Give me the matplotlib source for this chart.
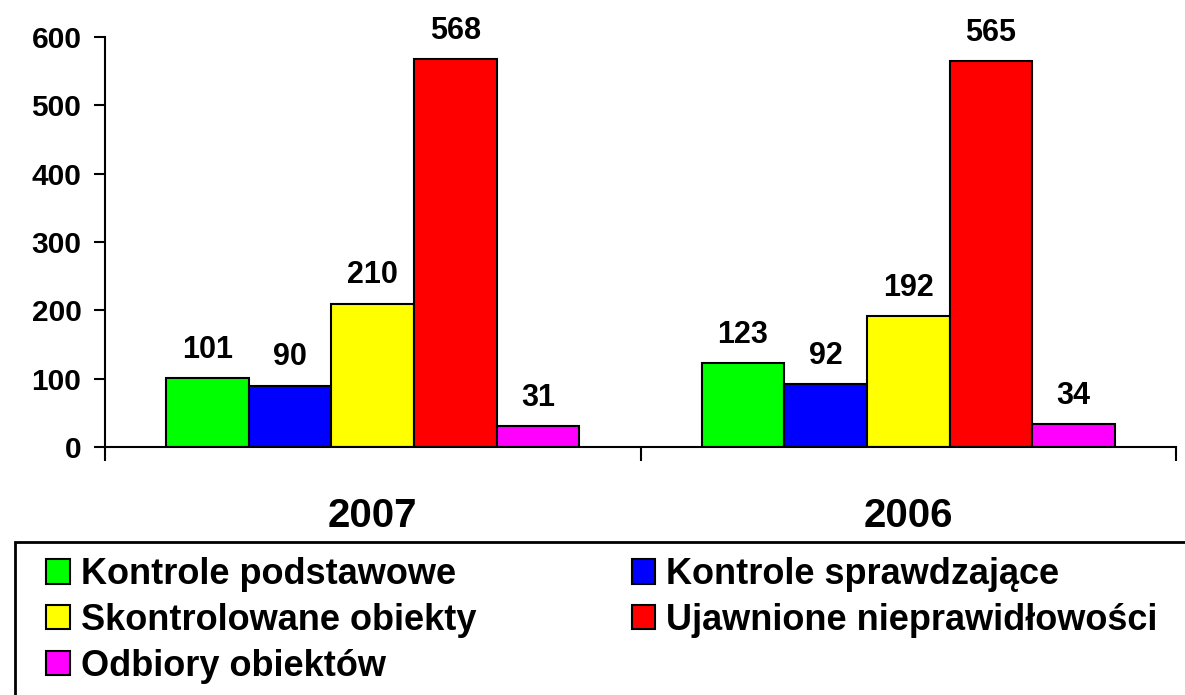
import numpy as np
import matplotlib
matplotlib.use('Agg')
import matplotlib.pyplot as plt
from matplotlib.patches import Rectangle

plt.rcParams['font.family'] = ['Liberation Sans', 'DejaVu Sans']
plt.rcParams['font.weight'] = 'bold'

years = ['2007', '2006']
series = ['Kontrole podstawowe', 'Kontrole sprawdzające', 'Skontrolowane obiekty',
          'Ujawnione nieprawidłowości', 'Odbiory obiektów']
values = [[101, 123],
          [90, 92],
          [210, 192],
          [568, 565],
          [31, 34]]
colors = ['#00FF00', '#0000FF', '#FFFF00', '#FF0000', '#FF00FF']

fig = plt.figure(figsize=(11.85, 6.95), dpi=100)
ax = fig.add_axes([105/1185, 1 - 447/695, (1176 - 105)/1185, (447 - 37)/695])

x = np.arange(len(years))
w = 0.772 / len(series)
handles = []
for i, (name, vals, c) in enumerate(zip(series, values, colors)):
    pos = x - 0.386 + w * (i + 0.5)
    b = ax.bar(pos, vals, w, color=c, edgecolor='black', linewidth=1.5, label=name)
    handles.append(b)
    for p, v in zip(pos, vals):
        ax.annotate(str(v), (p, v), xytext=(0, 9.5), textcoords='offset points',
                    ha='center', va='bottom', fontsize=22, fontweight='bold')

ax.set_xlim(-0.5, 1.5)
ax.set_ylim(0, 600)
ax.set_yticks(range(0, 601, 100))
ax.tick_params(axis='y', labelsize=21.5, length=8, width=1.5, direction='out', pad=9)
ax.set_xticks(x)
ax.set_xticklabels(years, fontsize=29, fontweight='bold')
ax.tick_params(axis='x', length=0, pad=36)
ax.set_xticks([-0.5, 0.5, 1.5], minor=True)
ax.tick_params(axis='x', which='minor', length=10, width=1.5, direction='out')
for s in ['top', 'right']:
    ax.spines[s].set_visible(False)
for s in ['left', 'bottom']:
    ax.spines[s].set_linewidth(1.5)

# legend box, runs off the right and bottom edge
fig.patches.append(Rectangle((15/1185, -0.2), 2, 1 - 542/695 + 0.2, transform=fig.transFigure,
                             fill=False, edgecolor='black', linewidth=2))
order = [0, 2, 4, 1, 3]
fig.legend([handles[i] for i in order], [series[i] for i in order], ncol=2,
           loc='upper left', bbox_to_anchor=(28/1185, 1 - 539/695), frameon=False,
           borderpad=0, handlelength=0.66, handleheight=0.66,
           handletextpad=0.3, labelspacing=0.3, columnspacing=4.3,
           prop={'weight': 'bold', 'size': 26})

fig.savefig('out.png', dpi=100)
